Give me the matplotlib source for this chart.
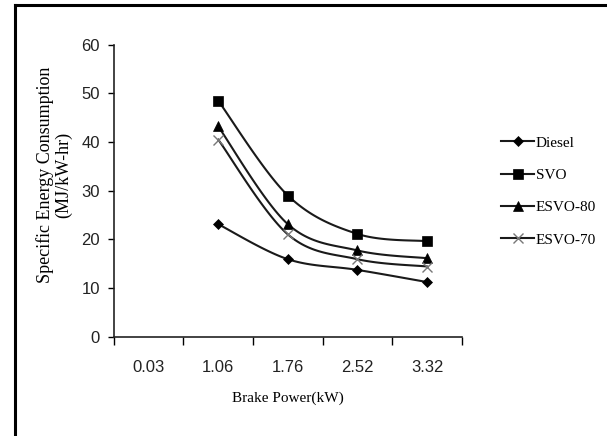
"""
Specific energy consumption vs brake power - smoothed line chart
"""

import numpy as np
import matplotlib
matplotlib.use('Agg')
import matplotlib.pyplot as plt
from matplotlib.lines import Line2D

categories = ['0.03', '1.06', '1.76', '2.52', '3.32']
series_names = ['Diesel', 'SVO', 'ESVO-80', 'ESVO-70']
diesel = [23.1, 15.9, 13.7, 11.2]
svo = [48.5, 29.0, 21.1, 19.6]
esvo80 = [43.2, 23.1, 17.7, 16.1]
esvo70 = [40.5, 21.0, 15.9, 14.4]
# data starts at the second category (no values at 0.03)
first_cat = 1

markers = ['D', 's', '^', 'x']
msizes = [5, 7, 7, 7]
mcolors = ['black', 'black', 'black', '#777777']

serif = ['Liberation Serif', 'DejaVu Serif']
narrow = ['Liberation Sans Narrow', 'DejaVu Sans Condensed', 'Liberation Sans', 'DejaVu Sans']


def smooth(x, y, n=30):
    # Excel-style smoothed line: cubic bezier, control points from neighbours / 6
    x = np.asarray(x, float)
    y = np.asarray(y, float)
    px = np.concatenate([[x[0]], x, [x[-1]]])
    py = np.concatenate([[y[0]], y, [y[-1]]])
    xs, ys = [], []
    t = np.linspace(0, 1, n)
    for i in range(1, len(px) - 2):
        p0 = np.array([px[i], py[i]])
        p3 = np.array([px[i + 1], py[i + 1]])
        c1 = p0 + (np.array([px[i + 1], py[i + 1]]) - np.array([px[i - 1], py[i - 1]])) / 6
        c2 = p3 - (np.array([px[i + 2], py[i + 2]]) - np.array([px[i], py[i]])) / 6
        b = ((1 - t) ** 3)[:, None] * p0 + (3 * (1 - t) ** 2 * t)[:, None] * c1 \
            + (3 * (1 - t) * t ** 2)[:, None] * c2 + (t ** 3)[:, None] * p3
        xs.extend(b[:, 0])
        ys.extend(b[:, 1])
    return xs, ys


fig = plt.figure(figsize=(6.07, 4.36), dpi=100)
ax = fig.add_axes([0.1875, 0.2282, 0.5735, 0.669])

handles = []
for name, vals, m, ms, mc in zip(series_names, [diesel, svo, esvo80, esvo70], markers, msizes, mcolors):
    xpos = np.arange(first_cat, first_cat + len(vals))
    sx, sy = smooth(xpos, vals)
    ax.plot(sx, sy, color='#1a1a1a', lw=1.5, zorder=2)
    ax.plot(xpos, vals, linestyle='none', marker=m, ms=ms, color=mc,
            mec=mc, mew=1.0 if m == 'x' else 0.5, zorder=3)
    handles.append(Line2D([], [], color='#1a1a1a', lw=1.5, marker=m, ms=ms,
                          mfc=mc, mec=mc, mew=1.0 if m == 'x' else 0.5))

ax.set_xlim(-0.5, len(categories) - 0.5)
ax.set_ylim(0, 60)
ax.set_yticks(range(0, 61, 10))
ax.set_xticks(np.arange(-0.5, len(categories), 1.0))
ax.set_xticklabels([])
ax.set_xticks(range(len(categories)), minor=True)
ax.set_xticklabels(categories, minor=True, fontfamily=narrow, fontsize=12, color='#222222')
ax.tick_params(axis='x', which='major', length=6, width=1, direction='out')
ax.tick_params(axis='x', which='minor', length=0, pad=17)
ax.tick_params(axis='y', length=4, width=1, pad=6, labelsize=12, labelcolor='#222222')
for lab in ax.get_yticklabels():
    lab.set_fontfamily(narrow)

for s in ['top', 'right']:
    ax.spines[s].set_visible(False)
for s in ['left', 'bottom']:
    ax.spines[s].set_linewidth(1.2)
    ax.spines[s].set_color('#222222')

ax.set_xlabel('Brake Power(kW)', fontfamily=serif, fontsize=11, labelpad=12)
ax.set_ylabel('Specific Energy Consumption\n(MJ/kW-hr)', fontfamily=serif,
              fontsize=13, linespacing=1.05)
ax.yaxis.set_label_coords(-0.12, 0.555)

fig.legend(handles, series_names, loc='center left', bbox_to_anchor=(0.825, 0.561),
           frameon=False, prop={'family': serif, 'size': 11}, handlelength=2.2,
           handletextpad=0.1, labelspacing=1.22, borderpad=0, borderaxespad=0)

# outer frame (left and top edges only)
fig.add_artist(Line2D([15 / 607, 15 / 607], [0, 1 - 5 / 436], transform=fig.transFigure,
                      color='black', lw=2.2))
fig.add_artist(Line2D([15 / 607, 1], [1 - 5 / 436, 1 - 5 / 436], transform=fig.transFigure,
                      color='black', lw=2.2))

fig.savefig('out.png', dpi=100)
